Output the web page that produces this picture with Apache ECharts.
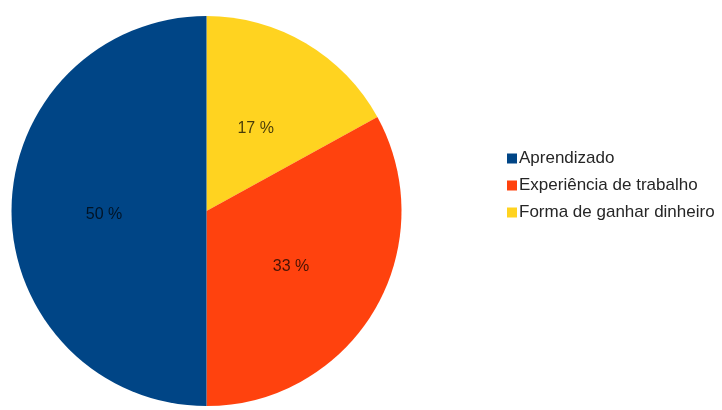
<!DOCTYPE html>
<html>
<head>
<meta charset="utf-8">
<script src="https://cdn.jsdelivr.net/npm/echarts@6/dist/echarts.min.js"></script>
<style>
  html, body { margin: 0; padding: 0; background: #ffffff; }
  #chart { width: 722px; height: 410px; }
</style>
</head>
<body>
<div id="chart"></div>
<script>
// Slices in drawing order (clockwise from the top)
const categories = ['Forma de ganhar dinheiro', 'Experiência de trabalho', 'Aprendizado'];
const values = [17, 33, 50];
const colors = ['#ffd320', '#ff420e', '#004586'];
// Legend lists the categories in this order
const legendOrder = ['Aprendizado', 'Experiência de trabalho', 'Forma de ganhar dinheiro'];

const chart = echarts.init(document.getElementById('chart'));

chart.setOption({
  animation: false,
  backgroundColor: '#ffffff',
  legend: {
    orient: 'vertical',
    left: 502,
    top: 145,
    itemWidth: 10,
    itemHeight: 10,
    itemGap: 10,
    icon: 'rect',
    data: legendOrder,
    textStyle: {
      fontFamily: 'Liberation Sans, Arial, sans-serif',
      fontSize: 17,
      lineHeight: 17,
      color: '#262626',
      padding: [0, 0, 0, -3]
    }
  },
  series: [{
    type: 'pie',
    center: [206.5, 211],
    radius: [0, 195],
    startAngle: 90,
    clockwise: true,
    avoidLabelOverlap: false,
    label: {
      show: true,
      position: 'inside',
      formatter: p => p.value + ' %',
      fontFamily: 'Liberation Sans, Arial, sans-serif',
      fontSize: 16,
      color: 'rgba(0,0,0,0.72)'
    },
    // nudge the percentage labels slightly below the slice midpoints
    labelLayout: { dy: 4, dx: -2 },
    labelLine: { show: false },
    itemStyle: { borderWidth: 0 },
    emphasis: { disabled: true },
    data: categories.map((name, i) => ({
      name: name,
      value: values[i],
      itemStyle: { color: colors[i] }
    }))
  }]
});
</script>
</body>
</html>
